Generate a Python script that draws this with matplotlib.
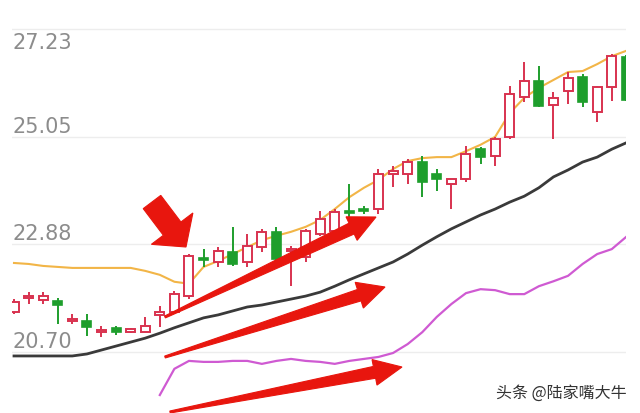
import numpy as np
import matplotlib
matplotlib.use("Agg")
import matplotlib.pyplot as plt
from matplotlib.patches import Polygon, Rectangle
from matplotlib.transforms import Affine2D

# price levels printed on the left
levels = [27.23, 25.05, 22.88, 20.70]

# daily candles
opens = [21.51, 21.79, 21.75, 21.73, 21.33, 21.33, 21.10, 21.19, 21.10, 21.10,
         21.45, 21.51, 21.83, 22.60, 22.52, 22.72, 22.52, 22.82, 23.13, 22.74,
         22.62, 23.09, 23.15, 23.55, 23.59, 23.59, 24.30, 24.30, 24.54, 24.30,
         24.10, 24.20, 24.80, 24.66, 25.05, 25.86, 26.18, 25.69, 25.98, 26.26,
         25.55, 26.06, 26.66]
highs = [21.77, 21.91, 21.91, 21.79, 21.47, 21.47, 21.23, 21.23, 21.19, 21.41,
         21.63, 21.93, 22.68, 22.78, 22.82, 23.23, 23.09, 23.19, 23.23, 22.84,
         23.19, 23.55, 23.59, 24.10, 23.65, 24.40, 24.46, 24.60, 24.66, 24.40,
         24.20, 24.87, 24.84, 25.05, 26.08, 26.56, 26.48, 25.96, 26.36, 26.32,
         26.08, 26.72, 26.70]
lows = [21.47, 21.67, 21.67, 21.27, 21.27, 21.02, 21.00, 21.04, 21.08, 21.10,
        21.21, 21.47, 21.77, 22.42, 22.42, 22.44, 22.42, 22.72, 22.54, 22.03,
        22.52, 23.05, 23.13, 23.43, 23.49, 23.49, 24.04, 24.10, 23.83, 23.96,
        23.59, 24.14, 24.50, 24.46, 25.01, 25.75, 25.65, 25.01, 25.71, 25.65,
        25.35, 25.77, 25.77]
closes = [21.71, 21.83, 21.83, 21.65, 21.37, 21.21, 21.15, 21.11, 21.16, 21.23,
          21.51, 21.87, 22.64, 22.56, 22.74, 22.48, 22.84, 23.13, 22.58, 22.78,
          23.15, 23.39, 23.53, 23.51, 23.55, 24.30, 24.36, 24.54, 24.14, 24.20,
          24.20, 24.70, 24.64, 25.01, 25.92, 26.18, 25.67, 25.84, 26.24, 25.75,
          26.06, 26.68, 25.80]

# moving averages
ma_short = [22.50, 22.48, 22.44, 22.42, 22.40, 22.40, 22.40, 22.40, 22.40, 22.34,
            22.26, 22.12, 22.08, 22.42, 22.54, 22.68, 22.82, 22.96, 23.05, 23.13,
            23.23, 23.37, 23.59, 23.83, 24.02, 24.18, 24.40, 24.56, 24.62, 24.64,
            24.64, 24.76, 24.89, 25.05, 25.53, 25.84, 26.04, 26.20, 26.36, 26.38,
            26.52, 26.68, 26.79]
ma_mid = [20.62, 20.62, 20.62, 20.62, 20.62, 20.66, 20.74, 20.82, 20.90, 20.98,
          21.08, 21.19, 21.29, 21.39, 21.45, 21.53, 21.61, 21.65, 21.71, 21.77,
          21.83, 21.91, 22.03, 22.16, 22.28, 22.40, 22.52, 22.68, 22.86, 23.03,
          23.19, 23.33, 23.47, 23.59, 23.73, 23.85, 24.02, 24.24, 24.38, 24.54,
          24.64, 24.80, 24.93]
ma_long_start = 10
ma_long = [19.83, 20.36, 20.52, 20.50, 20.50, 20.52, 20.52, 20.46, 20.52, 20.56,
           20.52, 20.50, 20.46, 20.52, 20.56, 20.60, 20.68, 20.86, 21.10, 21.41,
           21.67, 21.89, 21.97, 21.95, 21.87, 21.87, 22.03, 22.13, 22.24, 22.48,
           22.68, 22.78, 23.03]

watermark = "头条 @陆家嘴大牛"

up_col = "#d8324f"
down_col = "#1e9e2c"

fig = plt.figure(figsize=(6.4, 4.14), dpi=100)
# plot area runs from pixel 12 to 626 horizontally
ax = fig.add_axes([12 / 640, 0, (626 - 12) / 640, 1])
step = 14.58
ax.set_xlim((12 - 14) / step, (626 - 14) / step)
ax.set_ylim(20.70 - 61 * (6.53 / 323), 27.23 + 30 * (6.53 / 323))
ax.axis("off")

# grid lines
for lv in levels:
    ax.axhline(lv, color="#ededed", lw=1.0, zorder=0)

# candles
w = 0.62
for i in range(len(opens)):
    o, h, l, c = opens[i], highs[i], lows[i], closes[i]
    lo, hi = min(o, c), max(o, c)
    if hi - lo < 0.03:
        hi = lo + 0.03
    if c >= o:
        ax.vlines(i, l, lo, color=up_col, lw=1.4, zorder=3)
        ax.vlines(i, hi, h, color=up_col, lw=1.4, zorder=3)
        ax.add_patch(Rectangle((i - w / 2, lo), w, hi - lo, facecolor="white",
                               edgecolor=up_col, lw=1.4, zorder=3))
    else:
        ax.vlines(i, l, h, color=down_col, lw=1.4, zorder=3)
        ax.add_patch(Rectangle((i - w / 2, lo), w, hi - lo, facecolor=down_col,
                               edgecolor=down_col, lw=1.2, zorder=3))

x = np.arange(len(opens))
ax.plot(x, ma_short, color="#f2b547", lw=1.5, zorder=2)
ax.plot(x, ma_mid, color="#3a3a3a", lw=2.0, zorder=2)
ax.plot(np.arange(ma_long_start, ma_long_start + len(ma_long)), ma_long,
        color="#cf5ad2", lw=1.6, zorder=2)

# price labels
for k, lv in enumerate(levels):
    dy = -19 if k == 0 else 5
    ax.annotate(f"{lv:.2f}", xy=(0, lv), xycoords=("axes fraction", "data"),
                xytext=(0, dy * 0.72), textcoords="offset points",
                ha="left", va="baseline", fontsize=15, color="#8c8c8c",
                family="DejaVu Sans", zorder=4)

# red hand-drawn arrows, in pixel coordinates (origin top-left)
px = Affine2D().scale(1 / 640, -1 / 414).translate(0, 1) + fig.transFigure


def arrow_poly(tail, tip, w_tail, w_shaft, head_w, head_len):
    tail = np.array(tail, float)
    tip = np.array(tip, float)
    d = tip - tail
    u = d / np.linalg.norm(d)
    n = np.array([-u[1], u[0]])
    base = tip - u * head_len
    return np.array([tail + n * w_tail / 2, base + n * w_shaft / 2,
                     base + n * head_w / 2, tip, base - n * head_w / 2,
                     base - n * w_shaft / 2, tail - n * w_tail / 2])


arrows = [
    ((152, 203), (186, 248), 22, 22, 52, 23),
    ((165, 318), (376, 218), 2, 12, 26, 27),
    ((165, 358), (385, 288), 2, 12, 27, 27),
    ((170, 413), (402, 368), 2, 12, 26, 28),
]
for tail, tip, wt, ws, hw, hl in arrows:
    fig.patches.append(Polygon(arrow_poly(tail, tip, wt, ws, hw, hl),
                               closed=True, facecolor="#e8160e",
                               edgecolor="#e8160e", lw=0.8, transform=px,
                               zorder=5))

fig.text(627 / 640, 1 - 393 / 414, watermark, ha="right", va="center",
         fontsize=11.5, color="#333333",
         family=["Noto Sans CJK SC", "DejaVu Sans"], zorder=6)

fig.savefig("out.png", dpi=100, facecolor="white")
